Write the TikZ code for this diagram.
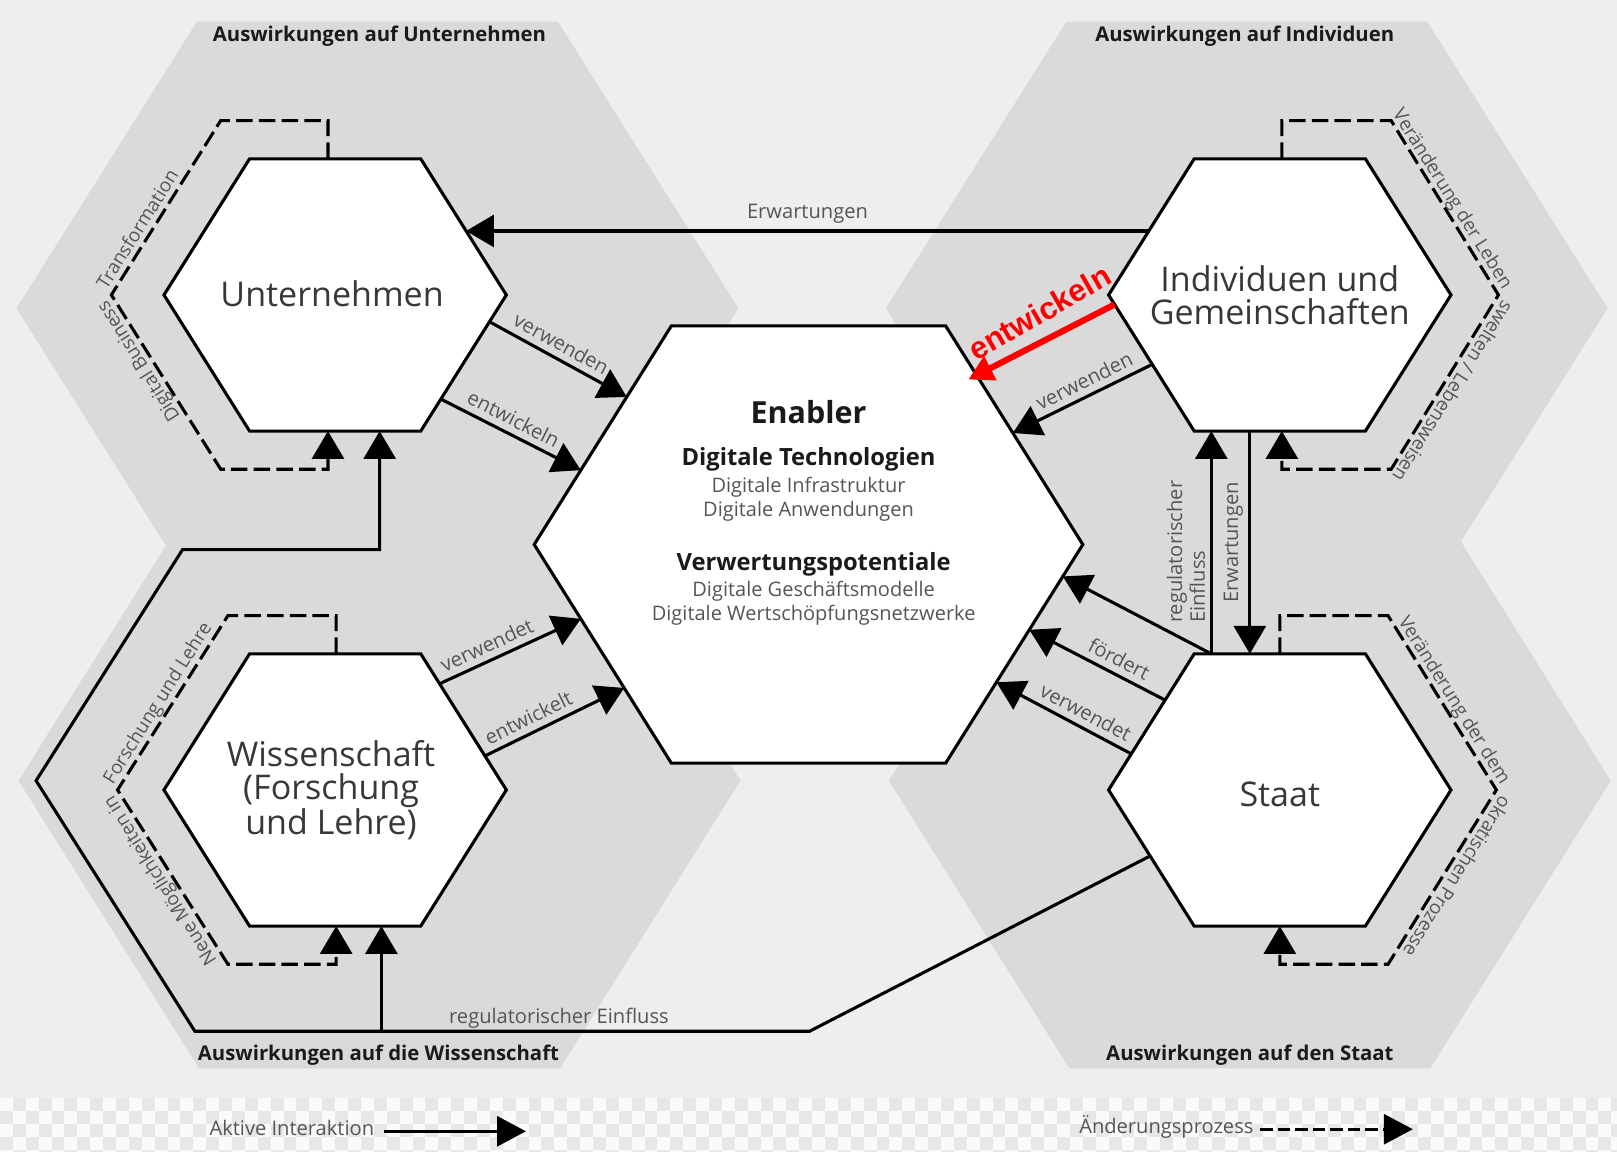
\documentclass[tikz,border=0pt]{standalone}
\usepackage{fontspec}
\setmainfont{Open Sans}
\newfontfamily\redfont{Liberation Sans}
\usetikzlibrary{arrows.meta,calc}
\definecolor{bgc}{HTML}{EEEEEE}
\definecolor{hexgray}{HTML}{DADADA}
\definecolor{lblc}{HTML}{555555}
\definecolor{hexc}{HTML}{383838}
\definecolor{ttlc}{HTML}{1A1A1A}
\definecolor{chkw}{HTML}{FAFAFA}
\definecolor{chkg}{HTML}{E7E7E7}
\definecolor{redc}{HTML}{FF0000}
\newcommand\fsz[2]{\fontsize{#1pt}{#2pt}\selectfont}
\newcommand\hexcoords[5]{%
  \coordinate (#1-L)  at ({#2-#4},{#3});
  \coordinate (#1-TL) at ({#2-#4/2},{#3-#5});
  \coordinate (#1-TR) at ({#2+#4/2},{#3-#5});
  \coordinate (#1-R)  at ({#2+#4},{#3});
  \coordinate (#1-BR) at ({#2+#4/2},{#3+#5});
  \coordinate (#1-BL) at ({#2-#4/2},{#3+#5});
}
\newcommand\hexshape[2]{\path[#2] (#1-L) -- (#1-TL) -- (#1-TR) -- (#1-R) -- (#1-BR) -- (#1-BL) -- cycle;}
\begin{document}
\begin{tikzpicture}[x=1pt,y=-1pt,
  bighex/.style={fill=hexgray},
  smallhex/.style={fill=white,draw=black,line width=3pt},
  arr/.style={draw=black,line width=3pt,-{Triangle[length=27pt,width=31pt]}},
  dashl/.style={draw=black,line width=3pt,dash pattern=on 16pt off 6pt},
  dasharr/.style={dashl,-{Triangle[length=27pt,width=31pt]}},
  hexlabel/.style={font=\fsz{33}{32},text=hexc,align=center},
  arrlabel/.style={font=\fsz{19.5}{21},text=lblc,inner xsep=1pt,inner ysep=6pt},
  chglabel/.style={font=\fsz{18.3}{20},text=lblc,inner sep=0pt},
  titlelabel/.style={font=\bfseries\fsz{19.7}{22},text=ttlc},
  enabhead/.style={font=\bfseries\fsz{23}{25},text=ttlc},
  enabtext/.style={font=\fsz{19.4}{23},text=lblc,align=center},
]
\useasboundingbox (0,0) rectangle (1568,1117);
\fill[bgc] (0,0) rectangle (1568,1117);
% checkered strip
\fill[chkg] (0,1065) rectangle (1568,1117);
\foreach \i in {0,...,125}{\foreach \j in {0,...,4}{%
  \pgfmathtruncatemacro\chkodd{mod(\i+\j,2)}%
  \ifnum\chkodd=0 \fill[chkw] ({\i*12.5},{1065+\j*12.5}) rectangle ++(12.5,12.5);\fi
}}
% big background hexagons
\hexcoords{TLH}{366}{299}{350}{278}
\hexcoords{TRH}{1209}{299}{350}{278}
\hexcoords{BLH}{368}{757}{350}{279}
\hexcoords{BRH}{1212}{757}{350}{279}
\hexshape{TLH}{bighex}
\hexshape{TRH}{bighex}
\hexshape{BLH}{bighex}
\hexshape{BRH}{bighex}
% titles
\node[titlelabel] (t1) at (368,35) {Auswirkungen auf Unternehmen};
\node[titlelabel] (t2) at (1207,35) {Auswirkungen auf Individuen};
\node[titlelabel] (t3) at (367,1023) {Auswirkungen auf die Wissenschaft};
\node[titlelabel] (t4) at (1212,1023) {Auswirkungen auf den Staat};
% white hexagons
\hexcoords{U}{325}{286}{166}{132}
\hexcoords{I}{1241}{286}{166}{132}
\hexcoords{W}{325}{766}{166}{132}
\hexcoords{S}{1241}{766}{166}{132}
\hexcoords{E}{784}{528}{266}{212}
\hexshape{U}{smallhex}
\hexshape{I}{smallhex}
\hexshape{W}{smallhex}
\hexshape{S}{smallhex}
\hexshape{E}{smallhex}
% hexagon texts
\node[hexlabel] (Utxt) at (322,285) {Unternehmen};
\node[hexlabel] (Itxt) at (1241,286) {Individuen und\\Gemeinschaften};
\node[hexlabel] (Wtxt) at (321,766) {Wissenschaft\\(Forschung\\und Lehre)};
\node[hexlabel] (Stxt) at (1241,770) {Staat};
\node[font=\bfseries\fsz{29.5}{30},text=ttlc] (en1) at (784,400) {Enabler};
\node[enabhead] (en2) at (784,445) {Digitale Technologien};
\node[enabtext] (en3) at (784,484) {Digitale Infrastruktur\\Digitale Anwendungen};
\node[enabhead] (en4) at (789,547) {Verwertungspotentiale};
\node[enabtext] (en5) at (789,585) {Digitale Geschäftsmodelle\\Digitale Wertschöpfungsnetzwerke};

% ---- change processes (dashed loops)
% Unternehmen
\coordinate (U-dt) at ($(U-TL)!0.458!(U-TR)$);
\coordinate (U-db) at ($(U-BL)!0.458!(U-BR)$);
\coordinate (U-d1) at ($(U-dt)+(0,-37)$);
\coordinate (U-d2) at (214,117);
\coordinate (U-dv) at (108,286);
\coordinate (U-d3) at (214,455);
\coordinate (U-d4) at ($(U-db)+(0,37)$);
\draw[dasharr] (U-dt) -- (U-d1) -- (U-d2) -- (U-dv) -- (U-d3) -- (U-d4) -- (U-db);
\node[chglabel,rotate=57.9,anchor=base west] (U-c1) at (103.6,281.5) {Transformation};
\node[chglabel,rotate=122.1,anchor=base east] (U-c2) at (103.6,290.5) {Digital Business};
% Wissenschaft
\coordinate (W-dt) at ($(W-TL)!0.506!(W-TR)$);
\coordinate (W-db) at ($(W-BL)!0.506!(W-BR)$);
\coordinate (W-d1) at ($(W-dt)+(0,-37)$);
\coordinate (W-d2) at (221,597);
\coordinate (W-dv) at (114,766);
\coordinate (W-d3) at (221,935);
\coordinate (W-d4) at ($(W-db)+(0,37)$);
\draw[dasharr] (W-dt) -- (W-d1) -- (W-d2) -- (W-dv) -- (W-d3) -- (W-d4) -- (W-db);
\node[chglabel,rotate=57.9,anchor=base west] (W-c1) at (109.6,761.5) {Forschung und Lehre};
\node[chglabel,rotate=122.1,anchor=base east] (W-c2) at (109.6,770.5) {Neue Möglichkeiten in};
% Individuen
\coordinate (I-dt) at ($(I-TL)!0.512!(I-TR)$);
\coordinate (I-db) at ($(I-BL)!0.512!(I-BR)$);
\coordinate (I-d1) at ($(I-dt)+(0,-37)$);
\coordinate (I-d2) at (1349,117);
\coordinate (I-dv) at (1453,286);
\coordinate (I-d3) at (1349,455);
\coordinate (I-d4) at ($(I-db)+(0,37)$);
\draw[dasharr] (I-dt) -- (I-d1) -- (I-d2) -- (I-dv) -- (I-d3) -- (I-d4) -- (I-db);
\node[chglabel,rotate=-57.9,anchor=base east] (I-c1) at (1457.4,281.5) {Veränderung der Leben};
\node[chglabel,rotate=-122.1,anchor=base west] (I-c2) at (1457.4,290.5) {swelten / Lebensweisen};
% Staat
\coordinate (S-dt) at ($(S-TL)!0.5!(S-TR)$);
\coordinate (S-db) at ($(S-BL)!0.5!(S-BR)$);
\coordinate (S-d1) at ($(S-dt)+(0,-37)$);
\coordinate (S-d2) at (1346,597);
\coordinate (S-dv) at (1451,766);
\coordinate (S-d3) at (1346,935);
\coordinate (S-d4) at ($(S-db)+(0,37)$);
\draw[dasharr] (S-dt) -- (S-d1) -- (S-d2) -- (S-dv) -- (S-d3) -- (S-d4) -- (S-db);
\node[chglabel,rotate=-57.9,anchor=base east] (S-c1) at (1455.4,761.5) {Veränderung der dem};
\node[chglabel,rotate=-122.1,anchor=base west] (S-c2) at (1455.4,770.5) {okratischen Prozesse};

% ---- active interactions
% Erwartungen (Individuen -> Unternehmen)
\coordinate (I-erw) at ($(I-L)!0.47!(I-TL)$);
\coordinate (U-erw) at ($(U-TR)!0.53!(U-R)$);
\draw[arr] (I-erw) -- node[arrlabel,above,pos=0.5] (l-erw) {Erwartungen} (U-erw);
% Unternehmen -> Enabler
\coordinate (U-v) at ($(U-R)!0.197!(U-BR)$);
\coordinate (E-uv) at ($(E-TL)!0.325!(E-L)$);
\draw[arr] (U-v) -- node[arrlabel,sloped,above,pos=0.47] (l-uv) {verwenden} (E-uv);
\coordinate (U-e) at ($(U-R)!0.765!(U-BR)$);
\coordinate (E-ue) at ($(E-TL)!0.66!(E-L)$);
\draw[arr] (U-e) -- node[arrlabel,sloped,above,pos=0.47] (l-ue) {entwickeln} (E-ue);
% Wissenschaft -> Enabler
\coordinate (W-v) at ($(W-TR)!0.22!(W-R)$);
\coordinate (E-wv) at ($(E-L)!0.34!(E-BL)$);
\draw[arr] (W-v) -- node[arrlabel,sloped,above,pos=0.38] (l-wv) {verwendet} (E-wv);
\coordinate (W-e) at ($(W-TR)!0.75!(W-R)$);
\coordinate (E-we) at ($(E-L)!0.656!(E-BL)$);
\draw[arr] (W-e) -- node[arrlabel,sloped,above,pos=0.36] (l-we) {entwickelt} (E-we);
% Individuen -> Enabler
\coordinate (I-v) at ($(I-L)!0.51!(I-BL)$);
\coordinate (E-iv) at ($(E-TR)!0.49!(E-R)$);
\draw[arr] (I-v) -- node[arrlabel,sloped,above,pos=0.44] (l-iv) {verwenden} (E-iv);
% red arrow
\coordinate (I-red) at ($(I-L)!0.07!(I-BL)$);
\coordinate (E-red) at (939,368);
\draw[redc,line width=6pt,-{Triangle[length=24pt,width=25pt]}] (I-red) -- (E-red);
\node[font=\redfont\bfseries\fsz{30}{32},text=redc,rotate=30] (l-red) at (1008,303) {entwickeln};
% Staat -> Enabler and Staat <-> Individuen
\coordinate (S-rt) at ($(S-TL)!0.10!(S-TR)$);
\coordinate (I-rb) at ($(I-BL)!0.10!(I-BR)$);
\coordinate (E-sr) at ($(E-R)!0.146!(E-BR)$);
\draw[arr] (S-rt) -- (I-rb);
\draw[arr] (S-rt) -- (E-sr);
\node[font=\fsz{19.5}{22},text=lblc,rotate=90,align=left] (l-reg) at (1150,535) {regulatorischer\\Einfluss};
\coordinate (I-eb) at ($(I-BL)!0.325!(I-BR)$);
\coordinate (S-et) at ($(S-TL)!0.325!(S-TR)$);
\draw[arr] (I-eb) -- (S-et);
\node[font=\fsz{19.5}{22},text=lblc,rotate=90] (l-erw2) at (1196,526) {Erwartungen};
\coordinate (S-f) at ($(S-L)!0.66!(S-TL)$);
\coordinate (E-sf) at ($(E-R)!0.39!(E-BR)$);
\draw[arr] (S-f) -- node[arrlabel,sloped,above,pos=0.39] (l-sf) {fördert} (E-sf);
\coordinate (S-v) at ($(S-L)!0.265!(S-TL)$);
\coordinate (E-sv) at ($(E-R)!0.63!(E-BR)$);
\draw[arr] (S-v) -- node[arrlabel,sloped,above,pos=0.39] (l-sv) {verwendet} (E-sv);
% regulatory influence on Unternehmen / Wissenschaft
\coordinate (S-rg) at ($(S-L)!0.485!(S-BL)$);
\coordinate (rg1) at (785,1000);
\coordinate (rg2) at (189,1000);
\coordinate (rg3) at (35,757);
\coordinate (rg4) at (177,533);
\coordinate (U-sol) at ($(U-BL)!0.76!(U-BR)$);
\coordinate (W-sol) at ($(W-BL)!0.77!(W-BR)$);
\draw[arr] (S-rg) -- (rg1) -- (rg2) -- (rg3) -- (rg4) -- (rg4 -| U-sol) -- (U-sol);
\draw[arr] (W-sol |- rg2) -- (W-sol);
\node[arrlabel] (l-rg) at (542,987) {regulatorischer Einfluss};

% ---- legend
\node[font=\fsz{19.5}{21},text=lblc] (leg1) at (283,1094) {Aktive Interaktion};
\coordinate (leg1s) at (372,1097);
\coordinate (leg1e) at (510,1097);
\draw[draw=black,line width=3pt,-{Triangle[length=28pt,width=29pt]}] (leg1s) -- (leg1e);
\node[font=\fsz{19.5}{21},text=lblc] (leg2) at (1131,1093) {Änderungsprozess};
\coordinate (leg2s) at (1222,1095);
\coordinate (leg2e) at (1370,1095);
\draw[draw=black,line width=3pt,dash pattern=on 12pt off 5pt,-{Triangle[length=28pt,width=29pt]}] (leg2s) -- (leg2e);
\end{tikzpicture}
\end{document}
